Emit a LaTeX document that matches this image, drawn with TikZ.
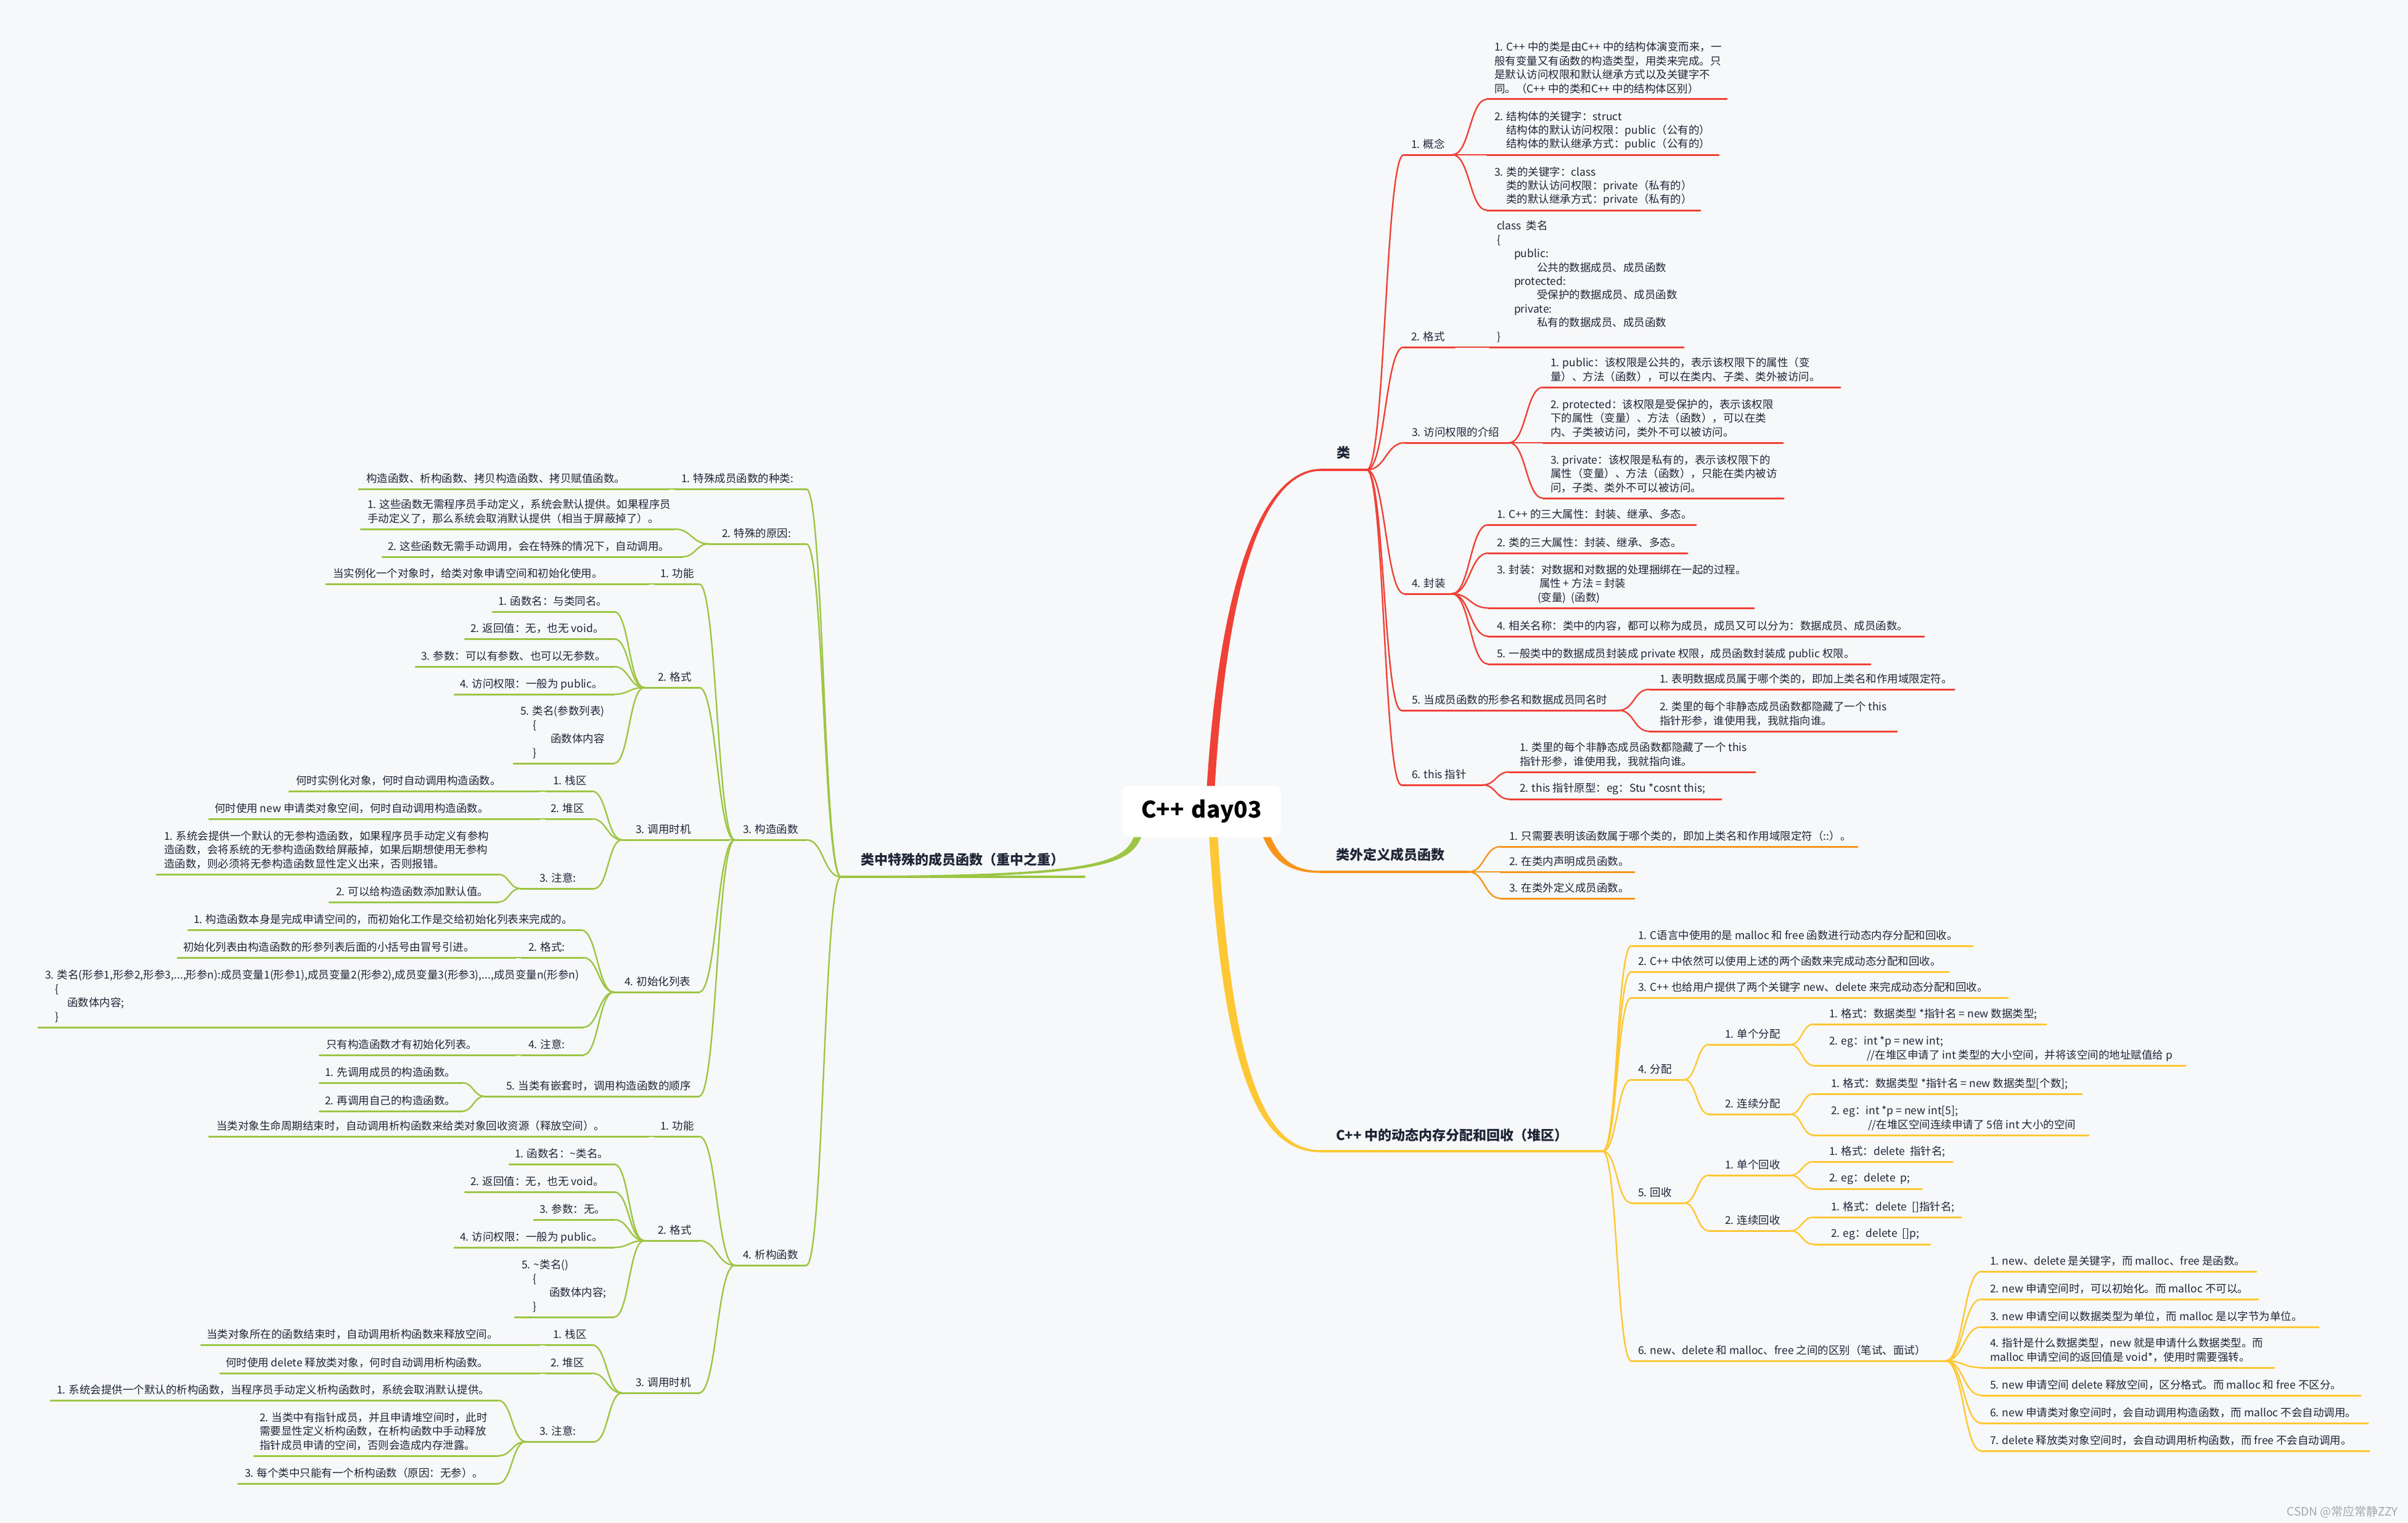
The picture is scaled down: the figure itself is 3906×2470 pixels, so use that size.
\documentclass[tikz,border=0pt]{standalone}
\usepackage{fontspec}
\setmainfont{Noto Sans CJK SC}
\usetikzlibrary{calc}
\definecolor{bg}{HTML}{F7F8FA}
\definecolor{cR}{HTML}{EF4136}
\definecolor{cO}{HTML}{F7941D}
\definecolor{cY}{HTML}{FFC733}
\definecolor{cG}{HTML}{9DC544}
\definecolor{ink}{HTML}{1D2536}
\definecolor{wm}{HTML}{A3A8B0}
\newcommand\fsz{\fontsize{17.5}{22.4}\selectfont}
\newcommand\ind[1]{\hspace*{#1pt}}
\tikzset{
 txt/.style={anchor=south west, inner sep=0pt, outer sep=0pt, align=left, font=\fsz, text=ink},
 topic/.style={anchor=base west, inner sep=0pt, outer sep=0pt, font=\fontsize{22}{26}\selectfont\bfseries, text=ink},
 R/.style={draw=cR}, O/.style={draw=cO}, Y/.style={draw=cY}, G/.style={draw=cG},
 ul/.style={line width=3pt, line cap=round},
 cn/.style={line width=2.4pt, line cap=round},
 brc/.style={to path={let \p1=(\tikztostart),\p2=(\tikztotarget) in .. controls ({0.5*\x1+0.5*\x2},\y1) and ({0.5*\x1+0.5*\x2},\y2) .. (\tikztotarget)}},
}
% name, xs, xe, y, tx, linestyle, text
\newcommand\nd[7]{%
  \coordinate (#1-l) at ({#2},{#4});
  \coordinate (#1-r) at ({#3},{#4});
  \draw[ul,#6] (#1-l) -- (#1-r);
  \node[txt] (#1) at ({#5},{#4-7}) {#7\rule[-4pt]{0pt}{1pt}};
}
% name, xs, xe, y, tx, baseline, linestyle, text
\newcommand\tp[8]{%
  \coordinate (#1-l) at ({#2},{#4});
  \coordinate (#1-r) at ({#3},{#4});
  \draw[ul,#7,line width=3.4pt] (#1-l) -- (#1-r);
  \node[topic] (#1) at ({#5},{#6}) {#8};
}
\newcommand\cn[3]{\draw[cn,#1] (#2) to[brc] (#3);}
\begin{document}
\begin{tikzpicture}[x=1pt,y=-1pt]
\useasboundingbox (0,0) rectangle (3906,2470);
\fill[bg] (0,0) rectangle (3906,2470);

% ---------- topics ----------
\tp{lei}{2143}{2217}{762}{2168}{742}{R}{类}
\tp{wai}{2142}{2382}{1414}{2167}{1394}{O}{类外定义成员函数}
\tp{mem}{2142}{2600}{1867}{2167}{1849}{Y}{C++ 中的动态内存分配和回收（堆区）}
\tp{spec}{1364}{1759}{1422}{1396}{1402}{G}{类中特殊的成员函数（重中之重）}

% ---------- main tapered branches ----------
\fill[cR] ($(lei-l)+(0,-1.7)$) .. controls (2060,760.3) and (1980,900) .. (1957,1285) -- (1970,1285) .. controls (1992,900) and (2062,763.7) .. ($(lei-l)+(0,1.7)$) -- cycle;
\fill[cO] (2058,1350) .. controls (2075,1392) and (2097,1412.3) .. ($(wai-l)+(0,-1.7)$) -- ($(wai-l)+(0,1.7)$) .. controls (2093,1415.7) and (2063,1398) .. (2046,1350) -- cycle;
\fill[cG] (1854,1350) .. controls (1837,1402) and (1800,1423.7) .. ($(spec-l)+(0,1.7)$) -- ($(spec-l)+(0,-1.7)$) .. controls (1796,1420.3) and (1825,1398) .. (1842,1350) -- cycle;
\fill[cY] (1961,1350) .. controls (1983,1725) and (2036,1868.7) .. ($(mem-l)+(0,1.7)$) -- ($(mem-l)+(0,-1.7)$) .. controls (2045,1865.3) and (1997,1720) .. (1975,1350) -- cycle;

\node[fill=white, rounded corners=12pt, minimum width=258pt, minimum height=83pt, inner sep=0pt,
  font=\fontsize{37}{40}\selectfont\bfseries, text=black] (root) at (1949,1316) {C++\hspace{12pt}day03};

% ---------- RED: 类 ----------
\nd{c1}{2277}{2356}{251}{2289}{R}{1. 概念}
\nd{c1a}{2412}{2801}{161}{2424}{R}{1. C++ 中的类是由C++ 中的结构体演变而来，一\\般有变量又有函数的构造类型，用类来完成。只\\是默认访问权限和默认继承方式以及关键字不\\同。（C++ 中的类和C++ 中的结构体区别）}
\nd{c1b}{2412}{2788}{251}{2424}{R}{2. 结构体的关键字：struct\\\ind{19}结构体的默认访问权限：public（公有的）\\\ind{19}结构体的默认继承方式：public（公有的）}
\nd{c1c}{2412}{2758}{341}{2424}{R}{3. 类的关键字：class\\\ind{19}类的默认访问权限：private（私有的）\\\ind{19}类的默认继承方式：private（私有的）}
\nd{c2}{2277}{2360}{563}{2289}{R}{2. 格式}
\nd{c2a}{2416}{2731}{563}{2428}{R}{class\ \ 类名\\\{\\\ind{28}public:\\\ind{65}公共的数据成员、成员函数\\\ind{28}protected:\\\ind{65}受保护的数据成员、成员函数\\\ind{28}private:\\\ind{65}私有的数据成员、成员函数\\\}}
\nd{c3}{2279}{2448}{718}{2290}{R}{3. 访问权限的介绍}
\nd{c3a}{2503}{2985}{628}{2515}{R}{1. public：该权限是公共的，表示该权限下的属性（变\\量）、方法（函数），可以在类内、子类、类外被访问。}
\nd{c3b}{2503}{2892}{718}{2515}{R}{2. protected：该权限是受保护的，表示该权限\\下的属性（变量）、方法（函数），可以在类\\内、子类被访问，类外不可以被访问。}
\nd{c3c}{2503}{2893}{808}{2515}{R}{3. private：该权限是私有的，表示该权限下的\\属性（变量）、方法（函数），只能在类内被访\\问，子类、类外不可以被访问。}
\nd{c4}{2278}{2355}{963}{2290}{R}{4. 封装}
\nd{c4a}{2414}{2751}{851}{2428}{R}{1. C++ 的三大属性：封装、继承、多态。}
\nd{c4b}{2414}{2737}{897}{2428}{R}{2. 类的三大属性：封装、继承、多态。}
\nd{c4c}{2414}{2845}{986}{2428}{R}{3. 封装：对数据和对数据的处理捆绑在一起的过程。\\\ind{69}属性 + 方法 = 封装\\\ind{66}(变量)\ \ (函数)}
\nd{c4d}{2414}{3121}{1032}{2428}{R}{4. 相关名称：类中的内容，都可以称为成员，成员又可以分为：数据成员、成员函数。}
\nd{c4e}{2414}{3034}{1077}{2428}{R}{5. 一般类中的数据成员封装成 private 权限，成员函数封装成 public 权限。}
\nd{c5}{2273}{2626}{1152}{2290}{R}{5. 当成员函数的形参名和数据成员同名时}
\nd{c5a}{2675}{3170}{1118}{2692}{R}{1. 表明数据成员属于哪个类的，即加上类名和作用域限定符。}
\nd{c5b}{2675}{3077}{1186}{2692}{R}{2. 类里的每个非静态成员函数都隐藏了一个 this\\指针形参，谁使用我，我就指向谁。}
\nd{c6}{2273}{2405}{1273}{2290}{R}{6. this 指针}
\nd{c6a}{2448}{2847}{1252}{2465}{R}{1. 类里的每个非静态成员函数都隐藏了一个 this\\指针形参，谁使用我，我就指向谁。}
\nd{c6b}{2448}{2792}{1296}{2465}{R}{2. this 指针原型：eg：Stu *cosnt this;}

\cn{R}{lei-r}{c1-l}\cn{R}{lei-r}{c2-l}\cn{R}{lei-r}{c3-l}\cn{R}{lei-r}{c4-l}\cn{R}{lei-r}{c5-l}\cn{R}{lei-r}{c6-l}
\cn{R}{c1-r}{c1a-l}\cn{R}{c1-r}{c1b-l}\cn{R}{c1-r}{c1c-l}
\cn{R}{c2-r}{c2a-l}
\cn{R}{c3-r}{c3a-l}\cn{R}{c3-r}{c3b-l}\cn{R}{c3-r}{c3c-l}
\cn{R}{c4-r}{c4a-l}\cn{R}{c4-r}{c4b-l}\cn{R}{c4-r}{c4c-l}\cn{R}{c4-r}{c4d-l}\cn{R}{c4-r}{c4e-l}
\cn{R}{c5-r}{c5a-l}\cn{R}{c5-r}{c5b-l}
\cn{R}{c6-r}{c6a-l}\cn{R}{c6-r}{c6b-l}

% ---------- ORANGE ----------
\nd{o1}{2434}{3013}{1373}{2448}{O}{1. 只需要表明该函数属于哪个类的，即加上类名和作用域限定符（::）。}
\nd{o2}{2434}{2651}{1414}{2448}{O}{2. 在类内声明成员函数。}
\nd{o3}{2434}{2651}{1457}{2448}{O}{3. 在类外定义成员函数。}
\cn{O}{wai-r}{o1-l}\cn{O}{wai-r}{o2-l}\cn{O}{wai-r}{o3-l}

% ---------- YELLOW ----------
\nd{y1}{2646}{3200}{1534}{2657}{Y}{1. C语言中使用的是 malloc 和 free 函数进行动态内存分配和回收。}
\nd{y2}{2646}{3161}{1576}{2657}{Y}{2. C++ 中依然可以使用上述的两个函数来完成动态分配和回收。}
\nd{y3}{2646}{3257}{1618}{2657}{Y}{3. C++ 也给用户提供了两个关键字 new、delete 来完成动态分配和回收。}
\nd{y4}{2646}{2732}{1751}{2657}{Y}{4. 分配}
\nd{y41}{2772}{2904}{1694}{2798}{Y}{1. 单个分配}
\nd{y411}{2942}{3319}{1661}{2967}{Y}{1. 格式：数据类型 *指针名 = new 数据类型;}
\nd{y412}{2942}{3545}{1728}{2967}{Y}{2. eg：int *p = new int;\\\ind{61}//在堆区申请了 int 类型的大小空间，并将该空间的地址赋值给 p}
\nd{y42}{2772}{2904}{1807}{2798}{Y}{2. 连续分配}
\nd{y421}{2942}{3377}{1774}{2970}{Y}{1. 格式：数据类型 *指针名 = new 数据类型[个数];}
\nd{y422}{2942}{3388}{1841}{2970}{Y}{2. eg：int *p = new int[5];\\\ind{60}//在堆区空间连续申请了 5倍 int 大小的空间}
\nd{y5}{2646}{2732}{1951}{2657}{Y}{5. 回收}
\nd{y51}{2772}{2904}{1906}{2798}{Y}{1. 单个回收}
\nd{y511}{2942}{3167}{1884}{2967}{Y}{1. 格式：delete\ \ 指针名;}
\nd{y512}{2942}{3117}{1928}{2967}{Y}{2. eg：delete\ \ p;}
\nd{y52}{2772}{2904}{1996}{2798}{Y}{2. 连续回收}
\nd{y521}{2942}{3181}{1974}{2970}{Y}{1. 格式：delete\ \ []指针名;}
\nd{y522}{2942}{3131}{2018}{2970}{Y}{2. eg：delete\ \ []p;}
\nd{y6}{2646}{3156}{2207}{2657}{Y}{6. new、delete 和 malloc、free 之间的区别（笔试、面试）}
\nd{y61}{3214}{3660}{2062}{3228}{Y}{1. new、delete 是关键字，而 malloc、free 是函数。}
\nd{y62}{3214}{3663}{2107}{3228}{Y}{2. new 申请空间时，可以初始化。而 malloc 不可以。}
\nd{y63}{3214}{3761}{2152}{3228}{Y}{3. new 申请空间以数据类型为单位，而 malloc 是以字节为单位。}
\nd{y64}{3214}{3689}{2218}{3228}{Y}{4. 指针是什么数据类型，new 就是申请什么数据类型。而\\malloc 申请空间的返回值是 void*，使用时需要强转。}
\nd{y65}{3214}{3829}{2263}{3228}{Y}{5. new 申请空间 delete 释放空间，区分格式。而 malloc 和 free 不区分。}
\nd{y66}{3214}{3841}{2308}{3228}{Y}{6. new 申请类对象空间时，会自动调用构造函数，而 malloc 不会自动调用。}
\nd{y67}{3214}{3843}{2353}{3228}{Y}{7. delete 释放类对象空间时，会自动调用析构函数，而 free 不会自动调用。}

\cn{Y}{mem-r}{y1-l}\cn{Y}{mem-r}{y2-l}\cn{Y}{mem-r}{y3-l}\cn{Y}{mem-r}{y4-l}\cn{Y}{mem-r}{y5-l}\cn{Y}{mem-r}{y6-l}
\cn{Y}{y4-r}{y41-l}\cn{Y}{y4-r}{y42-l}
\cn{Y}{y41-r}{y411-l}\cn{Y}{y41-r}{y412-l}
\cn{Y}{y42-r}{y421-l}\cn{Y}{y42-r}{y422-l}
\cn{Y}{y5-r}{y51-l}\cn{Y}{y5-r}{y52-l}
\cn{Y}{y51-r}{y511-l}\cn{Y}{y51-r}{y512-l}
\cn{Y}{y52-r}{y521-l}\cn{Y}{y52-r}{y522-l}
\cn{Y}{y6-r}{y61-l}\cn{Y}{y6-r}{y62-l}\cn{Y}{y6-r}{y63-l}\cn{Y}{y6-r}{y64-l}\cn{Y}{y6-r}{y65-l}\cn{Y}{y6-r}{y66-l}\cn{Y}{y6-r}{y67-l}

% ---------- GREEN ----------
\nd{g1}{1094}{1308}{793}{1105}{G}{1. 特殊成员函数的种类:}
\nd{g1a}{582}{1084}{793}{594}{G}{构造函数、析构函数、拷贝构造函数、拷贝赋值函数。}
\nd{g2}{1150}{1308}{882}{1171}{G}{2. 特殊的原因:}
\nd{g2a}{585}{1094}{858}{596}{G}{1. 这些函数无需程序员手动定义，系统会默认提供。如果程序员\\手动定义了，那么系统会取消默认提供（相当于屏蔽掉了）。}
\nd{g2b}{620}{1107}{903}{629}{G}{2. 这些函数无需手动调用，会在特殊的情况下，自动调用。}
\nd{g3}{1192}{1308}{1362}{1205}{G}{3. 构造函数}
\nd{g31}{1062}{1134}{947}{1071}{G}{1. 功能}
\nd{g31a}{529}{1052}{947}{540}{G}{当实例化一个对象时，给类对象申请空间和初始化使用。}
\nd{g32}{1045}{1134}{1115}{1067}{G}{2. 格式}
\nd{g321}{799}{996}{992}{808}{G}{1. 函数名：与类同名。}
\nd{g322}{754}{996}{1036}{763}{G}{2. 返回值：无，也无 void。}
\nd{g323}{674}{996}{1081}{683}{G}{3. 参数：可以有参数、也可以无参数。}
\nd{g324}{737}{996}{1126}{746}{G}{4. 访问权限：一般为 public。}
\nd{g325}{833}{996}{1238}{844}{G}{5. 类名(参数列表)\\\ind{20}\{\\\ind{49}函数体内容\\\ind{20}\}}
\nd{g33}{1009}{1182}{1362}{1031}{G}{3. 调用时机}
\nd{g331}{885}{960}{1283}{897}{G}{1. 栈区}
\nd{g331a}{469}{875}{1283}{480}{G}{何时实例化对象，何时自动调用构造函数。}
\nd{g332}{885}{960}{1328}{893}{G}{2. 堆区}
\nd{g332a}{339}{875}{1328}{348}{G}{何时使用 new 申请类对象空间，何时自动调用构造函数。}
\nd{g333}{844}{964}{1441}{875}{G}{3. 注意:}
\nd{g3331}{254}{808}{1418}{266}{G}{1. 系统会提供一个默认的无参构造函数，如果程序员手动定义有参构\\造函数，会将系统的无参构造函数给屏蔽掉，如果后期想使用无参构\\造函数，则必须将无参构造函数显性定义出来，否则报错。}
\nd{g3332}{534}{808}{1463}{545}{G}{2. 可以给构造函数添加默认值。}
\nd{g34}{996}{1134}{1609}{1013}{G}{4. 初始化列表}
\nd{g341}{305}{942}{1508}{314}{G}{1. 构造函数本身是完成申请空间的，而初始化工作是交给初始化列表来完成的。}
\nd{g342}{846}{946}{1553}{857}{G}{2. 格式:}
\nd{g342a}{288}{836}{1553}{297}{G}{初始化列表由构造函数的形参列表后面的小括号由冒号引进。}
\nd{g343}{62}{946}{1666}{73}{G}{3. 类名(形参1,形参2,形参3,...,形参n):成员变量1(形参1),成员变量2(形参2),成员变量3(形参3),...,成员变量n(形参n)\\\ind{16}\{\\\ind{36}函数体内容;\\\ind{16}\}}
\nd{g344}{846}{946}{1711}{857}{G}{4. 注意:}
\nd{g344a}{518}{836}{1711}{529}{G}{只有构造函数才有初始化列表。}
\nd{g35}{786}{1134}{1778}{821}{G}{5. 当类有嵌套时，调用构造函数的顺序}
\nd{g351}{518}{750}{1756}{527}{G}{1. 先调用成员的构造函数。}
\nd{g352}{518}{750}{1802}{527}{G}{2. 再调用自己的构造函数。}
\nd{g4}{1192}{1308}{2052}{1205}{G}{4. 析构函数}
\nd{g41}{1062}{1134}{1843}{1071}{G}{1. 功能}
\nd{g41a}{339}{1052}{1843}{351}{G}{当类对象生命周期结束时，自动调用析构函数来给类对象回收资源（释放空间）。}
\nd{g42}{1045}{1134}{2012}{1067}{G}{2. 格式}
\nd{g421}{826}{996}{1888}{835}{G}{1. 函数名：\textasciitilde 类名。}
\nd{g422}{754}{996}{1933}{763}{G}{2. 返回值：无，也无 void。}
\nd{g423}{866}{996}{1978}{875}{G}{3. 参数：无。}
\nd{g424}{737}{996}{2023}{746}{G}{4. 访问权限：一般为 public。}
\nd{g425}{835}{996}{2136}{846}{G}{5. \textasciitilde 类名()\\\ind{18}\{\\\ind{45}函数体内容;\\\ind{18}\}}
\nd{g43}{1009}{1134}{2259}{1031}{G}{3. 调用时机}
\nd{g431}{885}{960}{2181}{897}{G}{1. 栈区}
\nd{g431a}{326}{875}{2181}{335}{G}{当类对象所在的函数结束时，自动调用析构函数来释放空间。}
\nd{g432}{885}{960}{2227}{893}{G}{2. 堆区}
\nd{g432a}{357}{875}{2227}{366}{G}{何时使用 delete 释放类对象，何时自动调用析构函数。}
\nd{g433}{853}{964}{2338}{875}{G}{3. 注意:}
\nd{g4331}{82}{808}{2271}{92}{G}{1. 系统会提供一个默认的析构函数，当程序员手动定义析构函数时，系统会取消默认提供。}
\nd{g4332}{412}{808}{2361}{421}{G}{2. 当类中有指针成员，并且申请堆空间时，此时\\需要显性定义析构函数，在析构函数中手动释放\\指针成员申请的空间，否则会造成内存泄露。}
\nd{g4333}{386}{808}{2406}{397}{G}{3. 每个类中只能有一个析构函数（原因：无参）。}

\cn{G}{spec-l}{g1-r}\cn{G}{spec-l}{g2-r}\cn{G}{spec-l}{g3-r}\cn{G}{spec-l}{g4-r}
\cn{G}{g1-l}{g1a-r}
\cn{G}{g2-l}{g2a-r}\cn{G}{g2-l}{g2b-r}
\cn{G}{g3-l}{g31-r}\cn{G}{g3-l}{g32-r}\cn{G}{g3-l}{g33-r}\cn{G}{g3-l}{g34-r}\cn{G}{g3-l}{g35-r}
\cn{G}{g31-l}{g31a-r}
\cn{G}{g32-l}{g321-r}\cn{G}{g32-l}{g322-r}\cn{G}{g32-l}{g323-r}\cn{G}{g32-l}{g324-r}\cn{G}{g32-l}{g325-r}
\cn{G}{g33-l}{g331-r}\cn{G}{g33-l}{g332-r}\cn{G}{g33-l}{g333-r}
\cn{G}{g331-l}{g331a-r}\cn{G}{g332-l}{g332a-r}
\cn{G}{g333-l}{g3331-r}\cn{G}{g333-l}{g3332-r}
\cn{G}{g34-l}{g341-r}\cn{G}{g34-l}{g342-r}\cn{G}{g34-l}{g343-r}\cn{G}{g34-l}{g344-r}
\cn{G}{g342-l}{g342a-r}\cn{G}{g344-l}{g344a-r}
\cn{G}{g35-l}{g351-r}\cn{G}{g35-l}{g352-r}
\cn{G}{g4-l}{g41-r}\cn{G}{g4-l}{g42-r}\cn{G}{g4-l}{g43-r}
\cn{G}{g41-l}{g41a-r}
\cn{G}{g42-l}{g421-r}\cn{G}{g42-l}{g422-r}\cn{G}{g42-l}{g423-r}\cn{G}{g42-l}{g424-r}\cn{G}{g42-l}{g425-r}
\cn{G}{g43-l}{g431-r}\cn{G}{g43-l}{g432-r}\cn{G}{g43-l}{g433-r}
\cn{G}{g431-l}{g431a-r}\cn{G}{g432-l}{g432a-r}
\cn{G}{g433-l}{g4331-r}\cn{G}{g433-l}{g4332-r}\cn{G}{g433-l}{g4333-r}

\node[anchor=east, inner sep=0pt, font=\fontsize{19}{20}\selectfont, text=wm] (wmk) at (3890,2452) {CSDN @常应常静ZZY};
\end{tikzpicture}
\end{document}
